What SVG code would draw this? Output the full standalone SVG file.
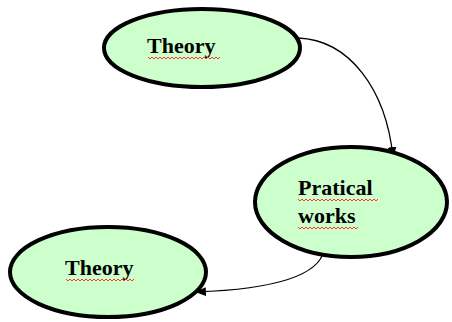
<svg xmlns="http://www.w3.org/2000/svg" width="452" height="322" viewBox="0 0 452 322">
<defs>
<marker id="arr" viewBox="0 0 10 10" refX="9" refY="5" markerWidth="11" markerHeight="11" markerUnits="userSpaceOnUse" orient="auto">
<path d="M0,1 L10,5 L0,9 Z" fill="#000"/>
</marker>
</defs>
<style>
.node ellipse{fill:#ccffcc;stroke:#000;stroke-width:4}
.node text{font-family:"Liberation Serif","Times New Roman",serif;font-weight:bold;font-size:22px;fill:#000}
.sq{fill:none;stroke:#ff3333;stroke-width:1}
.edge{fill:none;stroke:#000;stroke-width:1.3}
</style>
<rect width="452" height="322" fill="#fff"/>
<g id="connectors">
<path class="edge" d="M298,38 C350,40 386,90 393,157" marker-end="url(#arr)"/>
<path class="edge" d="M324,250 C318,282 250,290 196,292" marker-end="url(#arr)"/>
</g>
<g id="theory-top" class="node">
<ellipse cx="202" cy="48" rx="98" ry="39"/>
<text x="147" y="53">Theory</text>
<path class="sq" d="M148,57 l2,2 l2,-2 l2,2 l2,-2 l2,2 l2,-2 l2,2 l2,-2 l2,2 l2,-2 l2,2 l2,-2 l2,2 l2,-2 l2,2 l2,-2 l2,2 l2,-2 l2,2 l2,-2 l2,2 l2,-2 l2,2 l2,-2 l2,2 l2,-2 l2,2 l2,-2 l2,2 l2,-2 l2,2 l2,-2 l2,2 l2,-2 l2,2 l2,-2"/>
</g>
<g id="pratical-works" class="node">
<ellipse cx="351" cy="202" rx="96" ry="55"/>
<text x="298" y="195">Pratical</text>
<text x="298" y="223">works</text>
<path class="sq" d="M298,199 l2,2 l2,-2 l2,2 l2,-2 l2,2 l2,-2 l2,2 l2,-2 l2,2 l2,-2 l2,2 l2,-2 l2,2 l2,-2 l2,2 l2,-2 l2,2 l2,-2 l2,2 l2,-2 l2,2 l2,-2 l2,2 l2,-2 l2,2 l2,-2 l2,2 l2,-2 l2,2 l2,-2 l2,2 l2,-2 l2,2 l2,-2 l2,2 l2,-2 l2,2 l2,-2 l2,2 l2,-2"/>
<path class="sq" d="M298,227 l2,2 l2,-2 l2,2 l2,-2 l2,2 l2,-2 l2,2 l2,-2 l2,2 l2,-2 l2,2 l2,-2 l2,2 l2,-2 l2,2 l2,-2 l2,2 l2,-2 l2,2 l2,-2 l2,2 l2,-2 l2,2 l2,-2 l2,2 l2,-2 l2,2 l2,-2 l2,2 l2,-2"/>
</g>
<g id="theory-bottom" class="node">
<ellipse cx="108" cy="272" rx="98" ry="45"/>
<text x="65" y="275">Theory</text>
<path class="sq" d="M66,279 l2,2 l2,-2 l2,2 l2,-2 l2,2 l2,-2 l2,2 l2,-2 l2,2 l2,-2 l2,2 l2,-2 l2,2 l2,-2 l2,2 l2,-2 l2,2 l2,-2 l2,2 l2,-2 l2,2 l2,-2 l2,2 l2,-2 l2,2 l2,-2 l2,2 l2,-2 l2,2 l2,-2 l2,2 l2,-2 l2,2 l2,-2"/>
</g>
</svg>
